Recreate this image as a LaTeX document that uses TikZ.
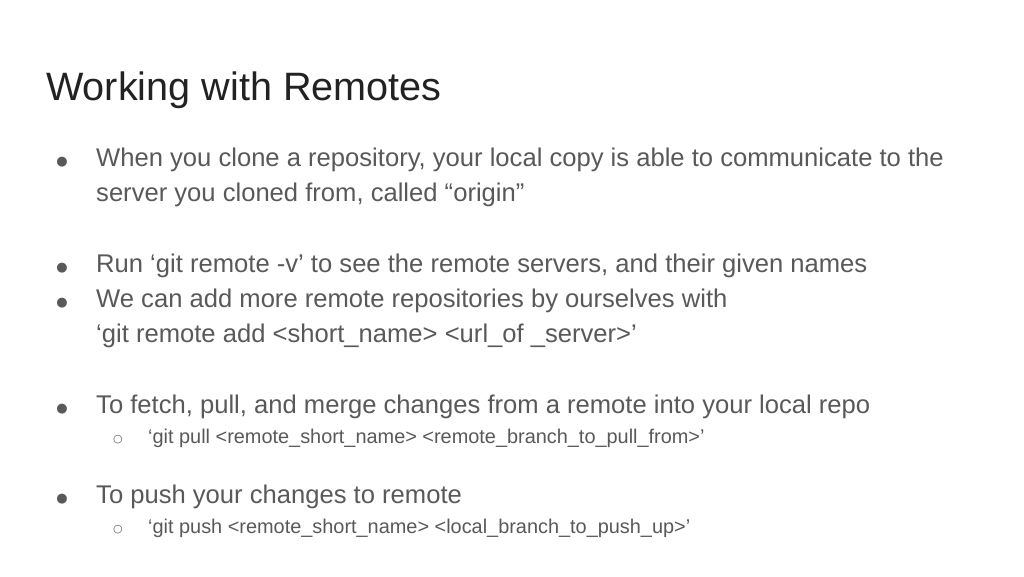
\documentclass[tikz,border=0pt]{standalone}
\usepackage{fontspec}
\setmainfont{Liberation Sans}
\newfontfamily\dv{DejaVu Sans}
\definecolor{titlec}{HTML}{222222}
\definecolor{bodyc}{HTML}{595959}
\begin{document}
\begin{tikzpicture}[x=1pt,y=-1pt,
  tl/.style={anchor=base west,inner sep=0pt,text=titlec,font=\fontsize{39.6}{44}\selectfont},
  bl/.style={anchor=base west,inner sep=0pt,text=bodyc,font=\fontsize{25.6}{30}\selectfont},
  sl/.style={anchor=base west,inner sep=0pt,text=bodyc,font=\fontsize{19.9}{24}\selectfont},
  dot/.style={anchor=base,inner sep=0pt,text=bodyc,font=\dv\fontsize{13}{16}\selectfont},
  circ/.style={anchor=base,inner sep=0pt,text=bodyc,font=\dv\fontsize{11}{14}\selectfont}]
\useasboundingbox[fill=white] (0,0) rectangle (1024,576);
\node[tl] (title) at (46,100) {Working with Remotes};
\node[dot] (d1) at (62,165) {●};
\node[bl] (t1) at (96,166) {When you clone a repository, your local copy is able to communicate to the};
\node[bl] (t1b) at (96,201) {server you cloned from, called “origin”};
\node[dot] (d2) at (62,271) {●};
\node[bl] (t2) at (96,272) {Run ‘git remote -v’ to see the remote servers, and their given names};
\node[dot] (d3) at (62,306) {●};
\node[bl] (t3) at (96,307) {We can add more remote repositories by ourselves with};
\node[bl] (t3b) at (96,342) {‘git remote add <short\_name> <url\_of \_server>’};
\node[dot] (d4) at (62,412) {●};
\node[bl] (t4) at (96,413) {To fetch, pull, and merge changes from a remote into your local repo};
\node[circ] (c1) at (118,442) {○};
\node[sl] (s1) at (148,443) {‘git pull <remote\_short\_name> <remote\_branch\_to\_pull\_from>’};
\node[dot] (d5) at (62,502) {●};
\node[bl] (t5) at (96,503) {To push your changes to remote};
\node[circ] (c2) at (118,532) {○};
\node[sl] (s2) at (148,533) {‘git push <remote\_short\_name> <local\_branch\_to\_push\_up>’};
\end{tikzpicture}
\end{document}
